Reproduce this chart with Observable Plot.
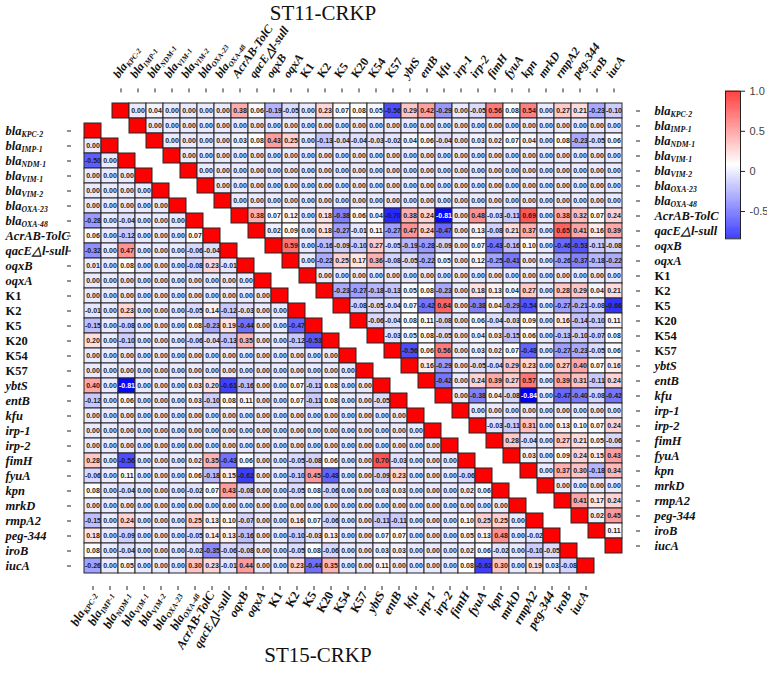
<!DOCTYPE html>
<html>
<head>
<meta charset="utf-8">
<script src="https://cdn.jsdelivr.net/npm/d3@7"></script>
<script src="https://cdn.jsdelivr.net/npm/@observablehq/plot@0.6"></script>
<style>
  body { margin: 0; background: #fff; }
  #wrap { position: relative; width: 767px; height: 673px; overflow: hidden; background: #fff; }
  #wrap svg { position: absolute; left: 0; top: 0; }
  .title { position: absolute; font-family: "Liberation Serif", "Times New Roman", serif; font-size: 21px; line-height: 1.1; color: #111; white-space: nowrap; transform: translateX(-50%); }
</style>
</head>
<body>
<div id="wrap">
  <div class="title" id="t1" style="left:323px; top:2px;">ST11-CRKP</div>
  <div class="title" id="t2" style="left:318px; top:644px;">ST15-CRKP</div>
</div>
<script>
// ---------------- DATA ----------------
const genes = ["blaKPC-2","blaIMP-1","blaNDM-1","blaVIM-1","blaVIM-2","blaOXA-23","blaOXA-48",
  "AcrAB-TolC","qacE△l-sull","oqxB","oqxA","K1","K2","K5","K20","K54","K57","ybtS","entB","kfu",
  "irp-1","irp-2","fimH","fyuA","kpn","mrkD","rmpA2","peg-344","iroB","iucA"];

// ST11-CRKP (upper triangle): row i lists values for columns i+1 ... 29
const st11Upper = [
  [0.00,0.04,0.00,0.00,0.00,0.00,0.38,0.06,-0.19,-0.05,0.00,0.23,0.07,0.08,0.05,-0.56,0.29,0.42,-0.29,0.00,-0.05,0.56,0.08,0.54,0.00,0.27,0.21,-0.23,-0.10],
  [0,0,0,0,0,0,0,0,0,0,0,0,0,0,0,0,0,0,0,0,0,0,0,0,0,0,0,0],
  [0.00,0.00,0.00,0.00,0.03,0.08,0.43,0.25,0.00,-0.13,-0.04,-0.04,-0.03,-0.02,0.04,0.06,-0.04,0.00,0.03,0.02,0.07,0.04,0.00,0.08,-0.23,-0.05,0.06],
  [0,0,0,0,0,0,0,0,0,0,0,0,0,0,0,0,0,0,0,0,0,0,0,0,0,0],
  [0,0,0,0,0,0,0,0,0,0,0,0,0,0,0,0,0,0,0,0,0,0,0,0,0],
  [0,0,0,0,0,0,0,0,0,0,0,0,0,0,0,0,0,0,0,0,0,0,0,0],
  [0,0,0,0,0,0,0,0,0,0,0,0,0,0,0,0,0,0,0,0,0,0,0],
  [0.38,0.07,0.12,0.00,0.18,-0.38,0.06,0.04,-0.70,0.38,0.24,-0.81,0.00,0.48,-0.03,-0.11,0.69,0.00,0.38,0.32,0.07,0.24],
  [0.02,0.09,0.00,0.18,-0.27,-0.01,0.11,-0.27,0.47,0.24,-0.47,0.00,0.13,-0.08,0.21,0.37,0.00,0.65,0.41,0.16,0.39],
  [0.59,0.00,-0.16,-0.09,-0.10,0.27,-0.05,-0.19,-0.28,-0.09,0.00,0.07,-0.43,-0.16,0.10,0.00,-0.46,-0.53,-0.11,-0.08],
  [0.00,-0.22,0.25,0.17,0.36,-0.08,-0.05,-0.22,0.05,0.00,0.12,-0.25,-0.41,0.00,0.00,-0.26,-0.37,-0.18,-0.22],
  [0,0,0,0,0,0,0,0,0,0,0,0,0,0,0,0,0,0],
  [-0.23,-0.27,-0.18,-0.13,0.05,0.08,-0.23,0.00,0.18,0.13,0.04,0.27,0.00,0.28,0.29,0.04,0.21],
  [-0.08,-0.05,-0.04,0.07,-0.42,0.64,0.00,-0.38,0.04,-0.29,-0.54,0.00,-0.27,-0.21,-0.08,-0.66],
  [-0.06,-0.04,0.08,0.11,-0.08,0.00,0.06,-0.04,-0.03,0.09,0.00,0.16,-0.14,-0.10,0.11],
  [-0.03,0.05,0.08,-0.05,0.00,0.04,0.03,-0.15,0.06,0.00,-0.13,-0.10,-0.07,0.08],
  [-0.56,0.06,0.56,0.00,0.03,0.02,0.07,-0.48,0.00,-0.27,-0.23,-0.05,0.06],
  [0.16,-0.29,0.00,-0.05,-0.04,0.29,0.23,0.00,0.27,0.40,0.07,0.16],
  [-0.42,0.00,0.24,0.39,0.27,0.57,0.00,0.39,0.31,-0.11,0.24],
  [0.00,-0.38,0.04,-0.08,-0.84,0.00,-0.47,-0.40,-0.08,-0.42],
  [0,0,0,0,0,0,0,0,0],
  [-0.03,-0.11,0.31,0.00,0.13,0.10,0.07,0.24],
  [0.28,-0.04,0.00,0.27,0.21,0.05,-0.06],
  [0.03,0.00,0.09,0.24,0.15,0.43],
  [0.00,0.37,0.30,-0.18,0.34],
  [0.00,0.00,0.00,0.00],
  [0.41,0.17,0.24],
  [0.02,0.45],
  [0.11],
  []
];

// ST15-CRKP (lower triangle): row r lists values for columns 0 ... r-1
const st15Lower = [
  [],
  [0.00],
  [-0.50,0.00],
  [0,0,0],
  [0,0,0,0],
  [0,0,0,0,0],
  [-0.28,0.00,-0.04,0.00,0.00,0.00],
  [0.06,0.00,-0.12,0.00,0.00,0.00,0.07],
  [-0.32,0.00,0.47,0.00,0.00,0.00,-0.06,-0.04],
  [0.01,0.00,0.08,0.00,0.00,0.00,-0.08,0.23,-0.01],
  [0,0,0,0,0,0,0,0,0,0],
  [0,0,0,0,0,0,0,0,0,0,0],
  [-0.01,0.00,0.23,0.00,0.00,0.00,-0.05,0.14,-0.12,-0.03,0.00,0.00],
  [-0.15,0.00,-0.08,0.00,0.00,0.00,0.08,-0.23,0.19,-0.44,0.00,0.00,-0.47],
  [0.20,0.00,-0.10,0.00,0.00,0.00,-0.06,-0.04,-0.13,0.35,0.00,0.00,-0.12,-0.53],
  [0,0,0,0,0,0,0,0,0,0,0,0,0,0,0],
  [0,0,0,0,0,0,0,0,0,0,0,0,0,0,0,0],
  [0.40,0.00,-0.81,0.00,0.00,0.00,0.03,0.20,-0.61,-0.16,0.00,0.00,0.07,-0.11,0.08,0.00,0.00],
  [-0.12,0.00,0.06,0.00,0.00,0.00,0.03,-0.10,0.08,0.11,0.00,0.00,0.07,-0.11,0.08,0.00,0.00,-0.05],
  [0,0,0,0,0,0,0,0,0,0,0,0,0,0,0,0,0,0,0],
  [0,0,0,0,0,0,0,0,0,0,0,0,0,0,0,0,0,0,0,0],
  [0,0,0,0,0,0,0,0,0,0,0,0,0,0,0,0,0,0,0,0,0],
  [0.28,0.00,-0.56,0.00,0.00,0.00,0.02,0.35,-0.43,0.06,0.00,0.00,-0.05,-0.08,0.06,0.00,0.00,0.70,-0.03,0.00,0.00,0.00],
  [-0.06,0.00,0.11,0.00,0.00,0.00,0.06,-0.18,0.15,-0.62,0.00,0.00,-0.10,0.45,-0.48,0.00,0.00,-0.09,0.23,0.00,0.00,0.00,-0.06],
  [0.08,0.00,-0.04,0.00,0.00,0.00,-0.02,0.07,0.43,-0.08,0.00,0.00,-0.05,0.08,-0.06,0.00,0.00,0.03,0.03,0.00,0.00,0.00,0.02,0.06],
  [0,0,0,0,0,0,0,0,0,0,0,0,0,0,0,0,0,0,0,0,0,0,0,0,0],
  [-0.15,0.00,0.24,0.00,0.00,0.00,0.25,0.13,0.10,-0.07,0.00,0.00,0.16,0.07,-0.06,0.00,0.00,-0.11,-0.11,0.00,0.00,0.00,0.10,0.25,0.25,0.00],
  [0.18,0.00,-0.09,0.00,0.00,0.00,-0.05,0.14,0.13,-0.16,0.00,0.00,-0.10,-0.03,0.13,0.00,0.00,0.07,0.07,0.00,0.00,0.00,0.05,0.13,0.48,0.00,-0.02],
  [0.08,0.00,-0.04,0.00,0.00,0.00,-0.02,-0.35,-0.06,-0.08,0.00,0.00,-0.05,0.08,-0.06,0.00,0.00,0.03,0.03,0.00,0.00,0.00,0.02,0.06,-0.02,0.00,-0.10,-0.05],
  [-0.26,0.00,0.05,0.00,0.00,0.00,0.30,0.23,-0.01,0.44,0.00,0.00,0.23,-0.44,0.35,0.00,0.00,0.11,0.00,0.00,0.00,0.00,0.08,-0.62,0.30,0.00,0.19,0.03,-0.08]
];

const colorDomain = [-0.84, 0.08, 1];   // min, white point, max
const colorTicks = [-0.5, 0, 0.5, 1.0];

// ---------------- BUILD ----------------
const upperCells = [];
st11Upper.forEach((row, i) => {
  upperCells.push({row: genes[i], col: genes[i], value: 1, diag: true});
  row.forEach((v, k) => upperCells.push({row: genes[i], col: genes[i + 1 + k], value: v, diag: false}));
});
const lowerCells = [];
st15Lower.forEach((row, r) => {
  row.forEach((v, c) => lowerCells.push({row: genes[r], col: genes[c], value: v, diag: false}));
  lowerCells.push({row: genes[r], col: genes[r], value: 1, diag: true});
});

const colorOpts = {type: "linear", domain: colorDomain, range: ["#0000ff", "#ffffff", "#ff0000"], interpolate: "rgb"};
const serif = "'Liberation Serif', 'Times New Roman', serif";
const sans = "'Liberation Sans', Arial, sans-serif";
const fmt = v => v.toFixed(2);
const W = 767, H = 673;
const labelOpts = {fontSize: 12.5, fontWeight: "bold", fontFamily: serif, fill: "#111"};

function cellMarks(data) {
  const off = data.filter(d => !d.diag);
  return [
    Plot.cell(data, {x: "col", y: "row", fill: "value", stroke: "#262626", strokeWidth: 1, inset: 0}),
    Plot.text(off.filter(d => d.value > -0.75), {x: "col", y: "row", text: d => fmt(d.value), fontSize: 7, fontWeight: "bold", fontFamily: sans, fill: "#1c1c1c"}),
    Plot.text(off.filter(d => d.value <= -0.75), {x: "col", y: "row", text: d => fmt(d.value), fontSize: 7, fontWeight: "bold", fontFamily: sans, fill: "#ffffff"})
  ];
}

// ST15 lower triangle: left + bottom axes
const lowerPlot = Plot.plot({
  width: W, height: H,
  marginLeft: 71, marginRight: W - 606.5, marginTop: 110.4, marginBottom: H - 586,
  style: {background: "transparent", overflow: "visible"},
  x: {type: "band", domain: genes, padding: 0, axis: null},
  y: {type: "band", domain: genes, padding: 0, axis: null},
  color: colorOpts,
  marks: [
    ...cellMarks(lowerCells),
    Plot.axisX({anchor: "bottom", tickSize: 4, tickFormat: () => "", label: null, stroke: "#222"}),
    Plot.axisY({anchor: "left", tickSize: 4, tickFormat: () => "", label: null, stroke: "#222"}),
    Plot.text(genes, {y: d => d, frameAnchor: "left", textAnchor: "start", dx: -66, ...labelOpts}),
    Plot.text(genes, {x: d => d, frameAnchor: "bottom", textAnchor: "end", rotate: -60, dx: 3, dy: 8, ...labelOpts})
  ]
});

// ST11 upper triangle: top + right axes
const upperPlot = Plot.plot({
  width: W, height: H,
  marginLeft: 98, marginRight: W - 635, marginTop: 91.4, marginBottom: H - 564.8,
  style: {background: "transparent", overflow: "visible"},
  x: {type: "band", domain: genes, padding: 0, axis: null},
  y: {type: "band", domain: genes, padding: 0, axis: null},
  color: colorOpts,
  marks: [
    ...cellMarks(upperCells),
    Plot.axisX({anchor: "top", tickSize: 4, tickFormat: () => "", label: null, stroke: "#222"}),
    Plot.axisY({anchor: "right", tickSize: 4, tickFormat: () => "", label: null, stroke: "#222"}),
    Plot.text(genes, {y: d => d, frameAnchor: "right", textAnchor: "start", dx: 19, ...labelOpts}),
    Plot.text(genes, {x: d => d, frameAnchor: "top", textAnchor: "start", rotate: -55, dx: -9, dy: -18, ...labelOpts, fontSize: 12})
  ]
});

// Colour bar
const steps = d3.range(colorDomain[0], colorDomain[2], 0.004);
const barPlot = Plot.plot({
  width: W, height: H,
  marginLeft: 725, marginRight: W - 740, marginTop: 90.7, marginBottom: H - 238.3,
  style: {background: "transparent", overflow: "visible"},
  x: {domain: [0, 1], axis: null},
  y: {domain: [colorDomain[0], colorDomain[2]], axis: null},
  color: colorOpts,
  marks: [
    Plot.rect(steps, {x1: 0, x2: 1, y1: d => d, y2: d => Math.min(d + 0.0045, colorDomain[2]), fill: d => d + 0.002}),
    Plot.frame({stroke: "#222", strokeWidth: 1}),
    Plot.axisY({anchor: "right", ticks: colorTicks, tickSize: 4, tickPadding: 5, label: null,
      tickFormat: d => d === 0 ? "0" : d.toFixed(1), fontSize: 11, fontFamily: sans, fill: "#444", stroke: "#222"})
  ]
});

const wrap = document.getElementById("wrap");
[lowerPlot, upperPlot, barPlot].forEach(svg => wrap.appendChild(svg));

// Rich formatting for gene labels (italic genes, subscripts for bla-genes)
const geneSet = new Set(genes);
d3.select(wrap).selectAll("text").each(function() {
  const s = this.textContent;
  if (!geneSet.has(s)) return;
  const t = d3.select(this);
  t.style("font-style", /^K\d+$/.test(s) ? "normal" : "italic");
  if (s.startsWith("bla")) {
    t.text("bla");
    t.append("tspan").attr("dy", "0.32em").style("font-size", "0.62em").text(s.slice(3));
  }
});
</script>
</body>
</html>
